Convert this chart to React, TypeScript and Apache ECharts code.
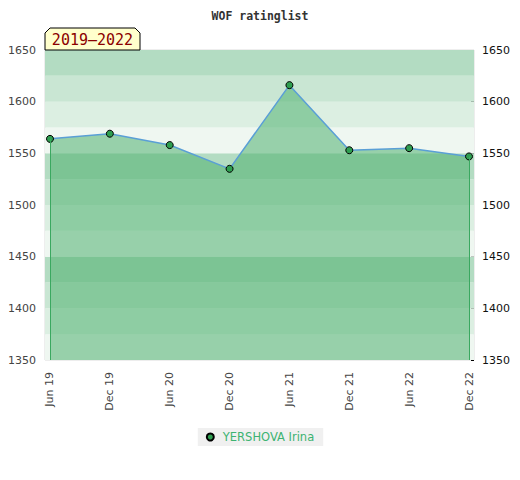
import React, { useEffect, useRef } from "react";
import * as echarts from "echarts";

const chartTitle = "WOF ratinglist";
const periodLabel = "2019–2022";
const seriesName = "YERSHOVA Irina";
const categories = ["Jun 19", "Dec 19", "Jun 20", "Dec 20", "Jun 21", "Dec 21", "Jun 22", "Dec 22"];
const ratings = [1564, 1569, 1558, 1535, 1616, 1553, 1555, 1547];
const yMin = 1350;
const yMax = 1650;
const yStep = 50;
const bandStops = [1350, 1375, 1400, 1425, 1450, 1475, 1500, 1525, 1550, 1575, 1600, 1625, 1650];
const bandColors = ["#eff7f1", "#dcefe2", "#c9e6d3", "#b3dcc2"];

export default function App() {
  const ref = useRef<HTMLDivElement>(null);
  useEffect(() => {
    if (!ref.current) return;
    document.body.style.margin = "0";
    const chart = echarts.init(ref.current, null, { renderer: "svg" });
    const pad = 0.0835;
    const bands: any[] = [];
    for (let i = 0; i < bandStops.length - 1; i++) {
      bands.push([
        { yAxis: bandStops[i], itemStyle: { color: bandColors[i % 4], opacity: 1 } },
        { yAxis: bandStops[i + 1] },
      ]);
    }
    const pts = ratings.map((v, i) => [i, v]);
    const last = ratings.length - 1;
    chart.setOption({
      animation: false,
      title: {
        text: chartTitle,
        left: "center",
        top: 5,
        textStyle: { fontFamily: "DejaVu Sans Mono", fontWeight: "bold", fontSize: 11.5, color: "#333" },
      },
      grid: {
        left: 45,
        right: 46,
        top: 50,
        bottom: 120,
        show: true,
        borderColor: "#dcdcdc",
        borderWidth: 1,
        backgroundColor: "transparent",
      },
      legend: {
        top: 428,
        left: "center",
        data: [seriesName],
        backgroundColor: "#f0f0f0",
        padding: [3, 9, 3, 8],
        itemWidth: 7,
        itemHeight: 7,
        itemGap: 10,
        icon: "circle",
        textStyle: { color: "#3cb371", fontFamily: "DejaVu Sans", fontSize: 11.5, padding: [0, 0, 0, 4] },
      },
      xAxis: {
        type: "value",
        min: -pad,
        max: last + pad,
        axisLine: { show: false },
        axisTick: { show: false },
        splitLine: { show: false },
        axisLabel: {
          customValues: categories.map((_, i) => i),
          formatter: (v: number) => categories[Math.round(v)] ?? "",
          rotate: 90,
          margin: 12,
          color: "#444",
          fontFamily: "DejaVu Sans",
          fontSize: 11,
        },
      },
      yAxis: [
        {
          type: "value",
          min: yMin,
          max: yMax,
          interval: yStep,
          position: "left",
          axisLine: { show: false },
          axisTick: { show: false },
          splitLine: { show: false },
          axisLabel: { color: "#444", margin: 9, fontFamily: "DejaVu Sans", fontSize: 11, formatter: (v: number) => String(v) },
        },
        {
          type: "value",
          min: yMin,
          max: yMax,
          interval: yStep,
          position: "right",
          axisLine: { show: false },
          axisTick: { show: true, inside: true, length: 3, lineStyle: { color: "#000" } },
          minorTick: { show: true, splitNumber: 5, length: 3, lineStyle: { color: "#000" } },
          splitLine: { show: false },
          minorSplitLine: { show: false },
          axisLabel: { color: "#111", margin: 8, fontFamily: "DejaVu Sans", fontSize: 11, formatter: (v: number) => String(v) },
        },
      ],
      series: [
        {
          type: "line",
          name: "bands",
          data: [],
          z: 1,
          silent: true,
          markArea: { silent: true, data: bands },
        },
        {
          type: "line",
          name: seriesName,
          data: pts,
          z: 3,
          symbol: "circle",
          symbolSize: 7,
          itemStyle: { color: "#2e9e50", borderColor: "#000", borderWidth: 1 },
          lineStyle: { color: "#5a9fd6", width: 1.5 },
          areaStyle: { color: "rgba(79,176,112,0.55)", opacity: 1, origin: "start" },
          markLine: {
            silent: true,
            symbol: "none",
            label: { show: false },
            lineStyle: { color: "#3aa860", width: 1, type: "solid" },
            data: [
              [{ coord: [0, ratings[0]] }, { coord: [0, yMin] }],
              [{ coord: [last, ratings[last]] }, { coord: [last, yMin] }],
            ],
          },
        },
      ],
      graphic: [
        {
          type: "polygon",
          z: 10,
          shape: { points: [[45, 50], [45, 33], [50, 28], [135, 28], [140, 33], [140, 50]] },
          style: { fill: "#ffffcc", stroke: "#000", lineWidth: 1 },
        },
        {
          type: "text",
          z: 11,
          x: 92.5,
          y: 40,
          style: {
            text: periodLabel,
            fill: "#8b0000",
            font: "15px 'DejaVu Sans Mono'",
            align: "center",
            verticalAlign: "middle",
          },
        },
      ],
    });
    return () => chart.dispose();
  }, []);
  return <div ref={ref} style={{ width: 520, height: 480 }} />;
}
